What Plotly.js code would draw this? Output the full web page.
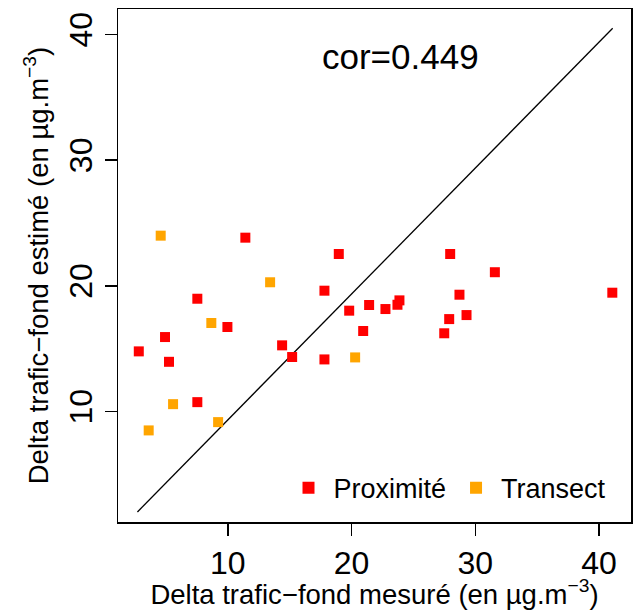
<!DOCTYPE html>
<html>
<head>
<meta charset="utf-8">
<script src="https://cdn.plot.ly/plotly-3.0.1.min.js"></script>
<style>html,body{margin:0;padding:0;background:#fff;}#chart{width:637px;height:610px;}</style>
</head>
<body>
<div id="chart"></div>
<script>
// Proximité (red)
const proxX = [11.42, 7.54, 9.97, 4.93, 2.81, 5.25, 14.39, 15.20, 7.54, 18.97, 27.97, 31.58, 17.81, 41.07, 28.72, 23.87, 23.71, 21.42, 22.74, 19.81, 27.89, 29.29, 20.94, 27.49, 17.81];
const proxY = [23.83, 18.97, 16.72, 15.92, 14.78, 13.95, 15.26, 14.33, 10.74, 22.53, 22.53, 21.08, 19.61, 19.45, 19.29, 18.84, 18.49, 18.47, 18.15, 18.02, 17.35, 17.67, 16.40, 16.22, 14.14];
// Transect (orange)
const tranX = [4.58, 13.42, 8.67, 5.58, 3.61, 9.22, 20.29];
const tranY = [23.99, 20.28, 17.04, 10.58, 8.49, 9.15, 14.30];
// reference line
const lineX = [2.7, 41.1];
const lineY = [2.0, 40.5];
const tickVals = [10, 20, 30, 40];
const corText = "cor=0.449";

const FONT = "Liberation Sans, Arial, Helvetica, sans-serif";

const traces = [
  {x: lineX, y: lineY, mode: 'lines', line: {color: 'black', width: 1.3}, showlegend: false, hoverinfo: 'skip'},
  {x: proxX, y: proxY, mode: 'markers', name: 'Proximité', marker: {symbol: 'square', size: 10, color: '#FF0000'}},
  {x: tranX, y: tranY, mode: 'markers', name: 'Transect', marker: {symbol: 'square', size: 10, color: '#FFA500'}}
];

const axisCommon = {
  tickvals: tickVals,
  ticks: 'outside', ticklen: 12, tickwidth: 1.5, tickcolor: 'black',
  showline: true, mirror: true, linecolor: 'black', linewidth: 1.5,
  showgrid: false, zeroline: false,
  tickfont: {family: FONT, size: 32, color: 'black'}
};

const layout = {
  width: 637, height: 610,
  margin: {l: 118, r: 6, t: 9, b: 88},
  paper_bgcolor: 'white', plot_bgcolor: 'white',
  font: {family: FONT, color: 'black'},
  xaxis: Object.assign({}, axisCommon, {
    range: [1.13, 42.58],
    title: {text: 'Delta trafic\u2212fond mesuré (en µg.m<sup>\u22123</sup>)', font: {family: FONT, size: 27.5, color: 'black'}, standoff: 4}
  }),
  yaxis: Object.assign({}, axisCommon, {
    range: [1.2, 42.03], tickangle: -90,
    title: {text: 'Delta trafic\u2212fond estimé (en µg.m<sup>\u22123</sup>)', font: {family: FONT, size: 27.5, color: 'black'}, standoff: 6}
  }),
  showlegend: true,
  legend: {orientation: 'h', x: 0.962, xanchor: 'right', y: 0.018, yanchor: 'bottom',
           itemwidth: 40, itemsizing: 'constant',
           bgcolor: 'rgba(0,0,0,0)', font: {family: FONT, size: 27, color: 'black'}},
  annotations: [{text: corText, x: 0.55, y: 0.95, xref: 'paper', yref: 'paper', showarrow: false,
                 font: {family: FONT, size: 35, color: 'black'}}]
};

Plotly.newPlot('chart', traces, layout, {displayModeBar: false, staticPlot: true});
</script>
</body>
</html>
